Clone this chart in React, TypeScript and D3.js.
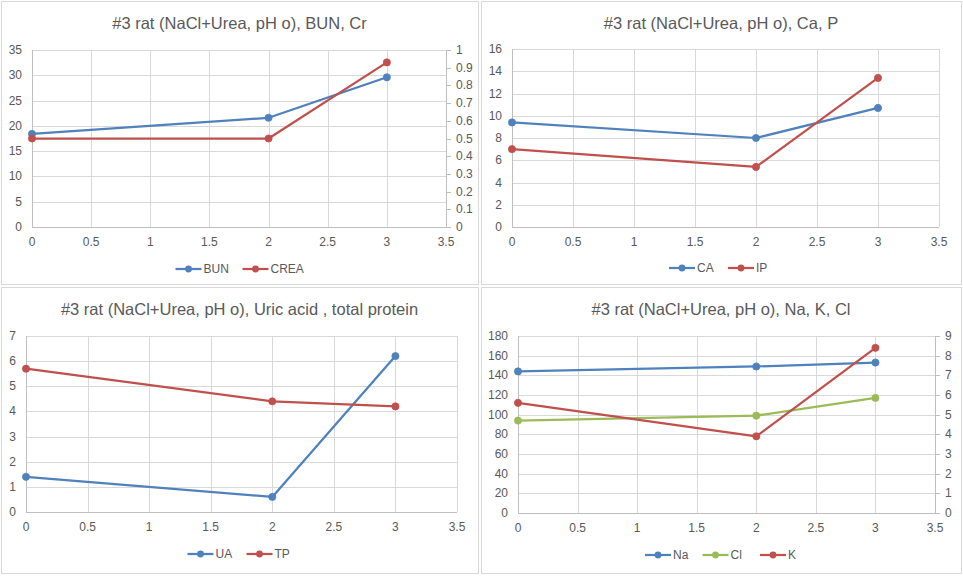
import React from "react";
import * as d3 from "d3";

const xValues = [0, 2, 3];
const xTicks = [0, 0.5, 1, 1.5, 2, 2.5, 3, 3.5];

const bun = [18.4, 21.6, 29.6];
const crea = [0.5, 0.5, 0.93];
const ca = [9.4, 8.0, 10.7];
const ip = [7.0, 5.4, 13.4];
const ua = [1.4, 0.6, 6.2];
const tp = [5.7, 4.4, 4.2];
const na = [144, 149, 153];
const cl = [94, 99, 117];
const k = [5.6, 3.9, 8.4];

const titles = [
  "#3 rat (NaCl+Urea, pH o), BUN, Cr",
  "#3 rat (NaCl+Urea, pH o), Ca, P",
  "#3 rat (NaCl+Urea, pH o), Uric acid , total protein",
  "#3 rat (NaCl+Urea, pH o), Na, K, Cl",
];

const BLUE = "#4F81BD";
const RED = "#C0504D";
const GREEN = "#9BBB59";
const TEXT = "#595959";
const GRID = "#d9d9d9";
const FONT = "'Liberation Sans', Arial, sans-serif";

type Series = { name: string; values: number[]; color: string; right?: boolean };
type PanelCfg = {
  box: [number, number, number, number];
  plot: [number, number, number, number];
  title: string;
  left: { max: number; step: number };
  right?: { max: number; step: number; fmt?: (v: number) => string };
  series: Series[];
  legendY: number;
};

const panels: PanelCfg[] = [
  {
    box: [1, 1, 478, 284],
    plot: [32, 50, 446, 227],
    title: titles[0],
    left: { max: 35, step: 5 },
    right: { max: 1, step: 0.1, fmt: (v) => (v === 0 ? "0" : v === 1 ? "1" : d3.format(".1f")(v)) },
    series: [
      { name: "BUN", values: bun, color: BLUE },
      { name: "CREA", values: crea, color: RED, right: true },
    ],
    legendY: 269,
  },
  {
    box: [481, 1, 961, 284],
    plot: [512, 49, 939, 227],
    title: titles[1],
    left: { max: 16, step: 2 },
    series: [
      { name: "CA", values: ca, color: BLUE },
      { name: "IP", values: ip, color: RED },
    ],
    legendY: 268,
  },
  {
    box: [1, 287, 478, 573],
    plot: [26, 336, 457, 512],
    title: titles[2],
    left: { max: 7, step: 1 },
    series: [
      { name: "UA", values: ua, color: BLUE },
      { name: "TP", values: tp, color: RED },
    ],
    legendY: 554,
  },
  {
    box: [481, 287, 961, 573],
    plot: [518, 336, 935, 513],
    title: titles[3],
    left: { max: 180, step: 20 },
    right: { max: 9, step: 1 },
    series: [
      { name: "Na", values: na, color: BLUE },
      { name: "Cl", values: cl, color: GREEN },
      { name: "K", values: k, color: RED, right: true },
    ],
    legendY: 555,
  },
];

function textWidth(s: string) {
  let w = 0;
  for (const c of s) w += /[A-Z]/.test(c) ? 8 : 6.5;
  return w;
}

function Panel({ cfg }: { cfg: PanelCfg }) {
  const [bx0, by0, bx1, by1] = cfg.box;
  const [px0, py0, px1, py1] = cfg.plot;
  const x = d3.scaleLinear().domain([0, 3.5]).range([px0, px1]);
  const yL = d3.scaleLinear().domain([0, cfg.left.max]).range([py1, py0]);
  const yR = cfg.right ? d3.scaleLinear().domain([0, cfg.right.max]).range([py1, py0]) : null;
  const leftTicks = d3.range(0, cfg.left.max + cfg.left.step / 2, cfg.left.step);
  const rightTicks = cfg.right ? d3.range(0, cfg.right.max + cfg.right.step / 2, cfg.right.step) : [];
  const cx = (bx0 + bx1) / 2;

  // legend layout
  const items = cfg.series.map((s) => ({ s, w: 26 + 3 + textWidth(s.name) }));
  const gap = 14;
  const total = items.reduce((a, b) => a + b.w, 0) + gap * (items.length - 1);
  let lx = cx - total / 2;
  const legendItems = items.map((it) => {
    const pos = lx;
    lx += it.w + gap;
    return { ...it, pos };
  });

  return (
    <g>
      <rect x={bx0 + 0.5} y={by0 + 0.5} width={bx1 - bx0} height={by1 - by0} fill="#fff" stroke={GRID} />
      <text x={cx} y={by0 + 28} textAnchor="middle" fontSize={16.5} fill={TEXT} fontFamily={FONT}>
        {cfg.title}
      </text>
      {leftTicks.map((t) => (
        <g key={"l" + t}>
          <line x1={px0} x2={px1} y1={Math.round(yL(t)) + 0.5} y2={Math.round(yL(t)) + 0.5} stroke={GRID} />
          <text x={px0 - 10} y={yL(t) + 4} textAnchor="end" fontSize={12} fill={TEXT} fontFamily={FONT}>
            {d3.format("~g")(t)}
          </text>
        </g>
      ))}
      {xTicks.map((t) => (
        <g key={"x" + t}>
          <line x1={Math.round(x(t)) + 0.5} x2={Math.round(x(t)) + 0.5} y1={py0} y2={py1} stroke={GRID} />
          <text x={x(t)} y={py1 + 19} textAnchor="middle" fontSize={12} fill={TEXT} fontFamily={FONT}>
            {d3.format("~g")(t)}
          </text>
        </g>
      ))}
      <line x1={px0} x2={px1} y1={py1 + 0.5} y2={py1 + 0.5} stroke="#bfbfbf" />
      <line x1={px0 + 0.5} x2={px0 + 0.5} y1={py0} y2={py1} stroke="#bfbfbf" />
      {yR && (
        <g>
          <line x1={px1 + 0.5} x2={px1 + 0.5} y1={py0} y2={py1} stroke="#bfbfbf" />
          {rightTicks.map((t) => (
            <g key={"r" + t}>
              <line x1={px1} x2={px1 + 5} y1={Math.round(yR(t)) + 0.5} y2={Math.round(yR(t)) + 0.5} stroke="#bfbfbf" />
              <text x={px1 + 10} y={yR(t) + 4} textAnchor="start" fontSize={12} fill={TEXT} fontFamily={FONT}>
                {cfg.right!.fmt ? cfg.right!.fmt(t) : d3.format("~g")(t)}
              </text>
            </g>
          ))}
        </g>
      )}
      {cfg.series.map((s) => {
        const ys = s.right && yR ? yR : yL;
        const line = d3
          .line<number>()
          .x((_, i) => x(xValues[i]))
          .y((v) => ys(v));
        return (
          <g key={s.name}>
            <path d={line(s.values) || ""} fill="none" stroke={s.color} strokeWidth={2.25} strokeLinejoin="round" />
            {s.values.map((v, i) => (
              <circle key={i} cx={x(xValues[i])} cy={ys(v)} r={3.6} fill={s.color} stroke={s.color} strokeWidth={0.75} />
            ))}
          </g>
        );
      })}
      {legendItems.map((it) => (
        <g key={"lg" + it.s.name}>
          <line x1={it.pos} x2={it.pos + 26} y1={cfg.legendY} y2={cfg.legendY} stroke={it.s.color} strokeWidth={2.25} />
          <circle cx={it.pos + 13} cy={cfg.legendY} r={3.4} fill={it.s.color} />
          <text x={it.pos + 28} y={cfg.legendY + 4} fontSize={12} fill={TEXT} fontFamily={FONT}>
            {it.s.name}
          </text>
        </g>
      ))}
    </g>
  );
}

export default function App() {
  return (
    <svg
      width={963}
      height={576}
      style={{ position: "absolute", left: 0, top: 0, background: "#fff" }}
    >
      <rect x={0} y={0} width={963} height={576} fill="#fff" />
      {panels.map((p, i) => (
        <Panel key={i} cfg={p} />
      ))}
    </svg>
  );
}
